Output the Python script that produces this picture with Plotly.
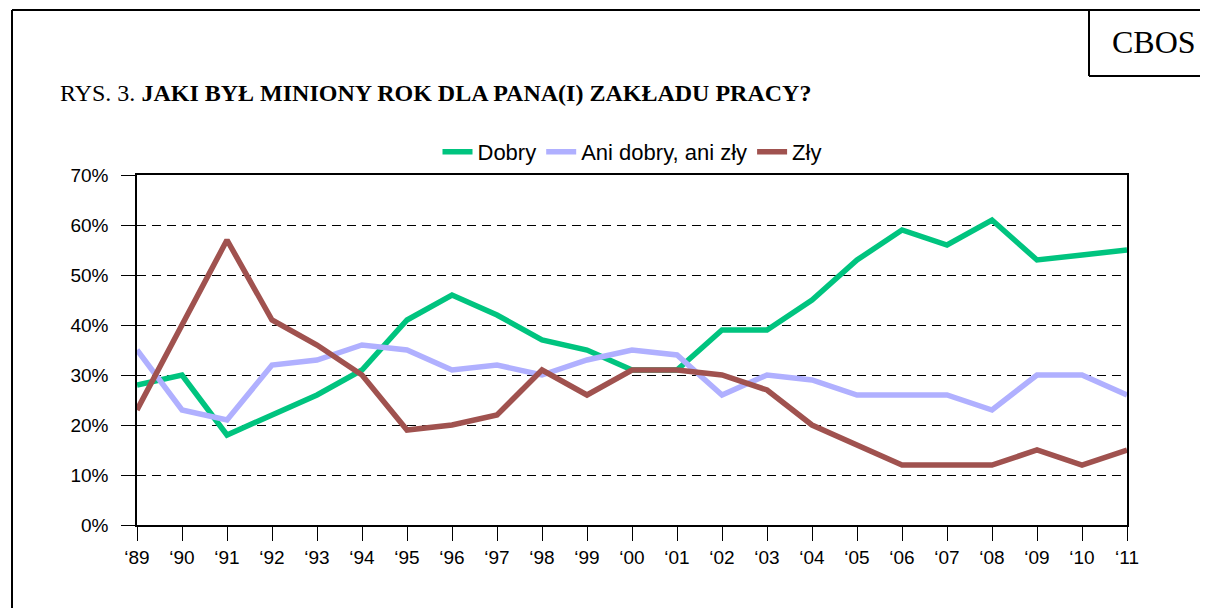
import plotly.graph_objects as go

years = ["‘89", "‘90", "‘91", "‘92", "‘93", "‘94", "‘95", "‘96", "‘97", "‘98", "‘99", "‘00",
         "‘01", "‘02", "‘03", "‘04", "‘05", "‘06", "‘07", "‘08", "‘09", "‘10", "‘11"]
dobry = [28, 30, 18, 22, 26, 31, 41, 46, 42, 37, 35, 31, 31, 39, 39, 45, 53, 59, 56, 61, 53, 54, 55]
ani = [35, 23, 21, 32, 33, 36, 35, 31, 32, 30, 33, 35, 34, 26, 30, 29, 26, 26, 26, 23, 30, 30, 26]
zly = [23, 40, 57, 41, 36, 30, 19, 20, 22, 31, 26, 31, 31, 30, 27, 20, 16, 12, 12, 12, 15, 12, 15]

series = [("Dobry", dobry, "#00C47F"), ("Ani dobry, ani zły", ani, "#B0B0FF"), ("Zły", zly, "#A0524F")]
yticks = [0, 10, 20, 30, 40, 50, 60, 70]

OFF = 8  # page body margin
W, H = 1200, 600
# plot area in page pixel coordinates
L, R, T, B = 137, 1127, 175, 525
def px(x):
    return (x - L) / (R - L)
def py(y):
    return (B - y) / (B - T)

xs = list(range(len(years)))
fig = go.Figure()
for name, vals, col in series:
    fig.add_trace(go.Scatter(x=xs, y=vals, name=name, mode="lines",
                             line=dict(color=col, width=5.5), cliponaxis=False))

fig.update_layout(
    width=W, height=H,
    margin=dict(l=L - OFF, r=W - (R - OFF), t=T - OFF, b=H - (B - OFF), pad=0),
    paper_bgcolor="white", plot_bgcolor="white",
    font=dict(family="Liberation Sans, Arial", size=19, color="black"),
    showlegend=True,
    legend=dict(orientation="h", x=0.5, xanchor="center", y=py(152), yanchor="middle",
                font=dict(size=22), itemwidth=30, tracegroupgap=0, bgcolor="rgba(0,0,0,0)"),
    xaxis=dict(range=[0, len(years) - 1], tickvals=xs, ticktext=years, showgrid=False,
               zeroline=False, showline=True, linecolor="black", linewidth=1.5, mirror=True,
               ticks="outside", ticklen=14, tickcolor="black", tickwidth=1,
               tickfont=dict(size=19)),
    yaxis=dict(range=[0, 70], tickvals=yticks, ticktext=[f"{v}%" for v in yticks],
               showgrid=True, gridcolor="black", gridwidth=1, griddash="9px,6px",
               zeroline=False, showline=True, linecolor="black", linewidth=1.5, mirror=True,
               ticks="outside", ticklen=14, tickcolor="black", tickwidth=1,
               ticklabelstandoff=9, tickfont=dict(size=19)),
)

# outer frame and CBOS box (page pixel coordinates)
frame = dict(color="black", width=2)
fig.add_shape(type="line", xref="paper", yref="paper", x0=px(12), x1=px(12), y0=py(10), y1=py(620), line=frame)
fig.add_shape(type="line", xref="paper", yref="paper", x0=px(12), x1=px(1220), y0=py(10), y1=py(10), line=frame)
fig.add_shape(type="line", xref="paper", yref="paper", x0=px(1089), x1=px(1089), y0=py(10), y1=py(76), line=frame)
fig.add_shape(type="line", xref="paper", yref="paper", x0=px(1089), x1=px(1220), y0=py(76), y1=py(76), line=frame)

fig.add_annotation(xref="paper", yref="paper", x=px(1154), y=py(42), text="CBOS", showarrow=False,
                   xanchor="center", yanchor="middle",
                   font=dict(family="Liberation Serif, Times New Roman", size=32, color="black"))
fig.add_annotation(xref="paper", yref="paper", x=px(58), y=py(93), showarrow=False,
                   xanchor="left", yanchor="middle",
                   text="RYS. 3. <b>JAKI BYŁ MINIONY ROK DLA PANA(I) ZAKŁADU PRACY?</b>",
                   font=dict(family="Liberation Serif, Times New Roman", size=24, color="black"))

fig.write_html("out.html")
